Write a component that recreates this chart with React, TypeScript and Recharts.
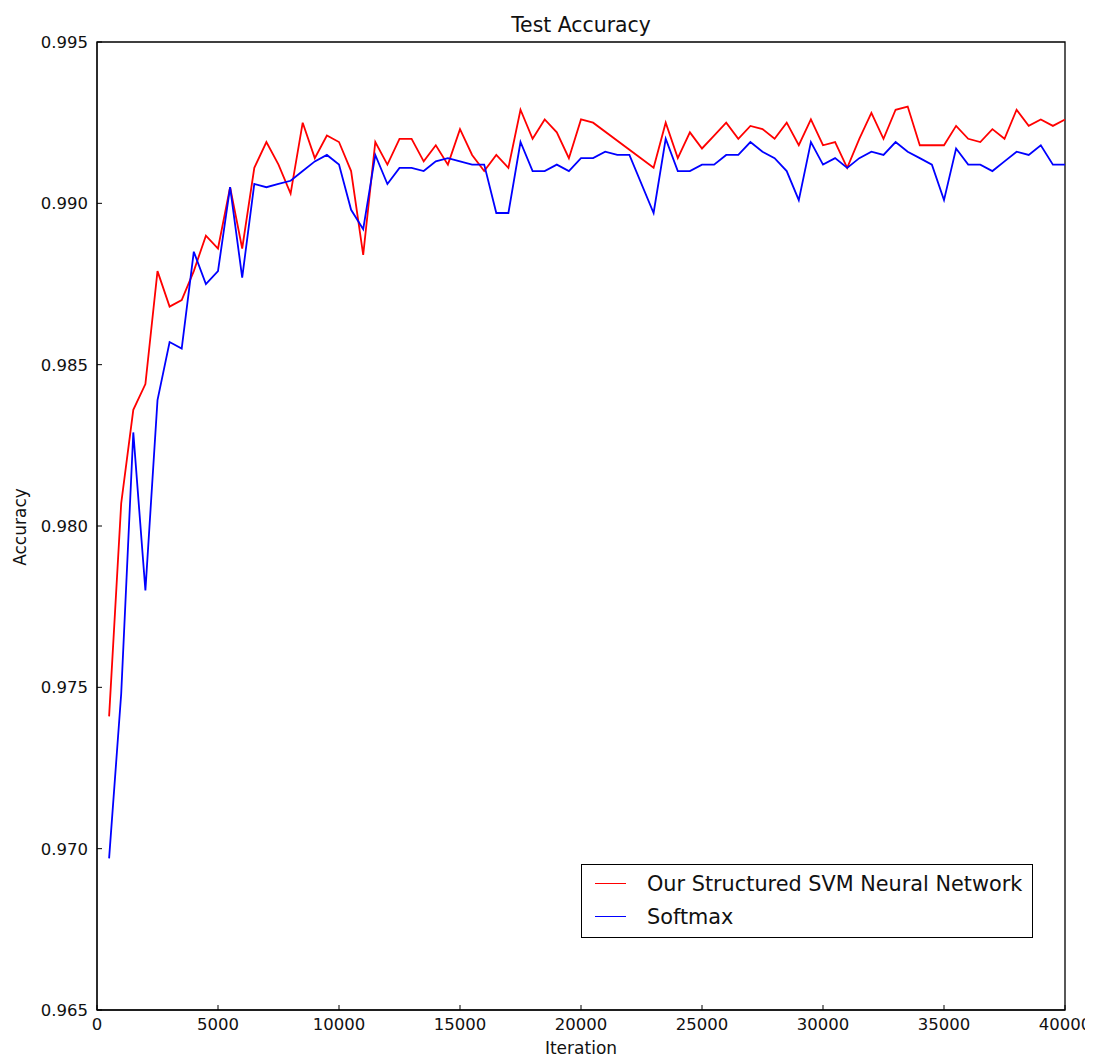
import React from 'react';
import {
  LineChart,
  Line,
  XAxis,
  YAxis,
  Legend,
  ReferenceArea,
} from 'recharts';

// Test accuracy sampled every 500 iterations; null = no evaluation at that step
const ITERATIONS = [
  500, 1000, 1500, 2000, 2500, 3000, 3500, 4000, 4500, 5000,
  5500, 6000, 6500, 7000, 7500, 8000, 8500, 9000, 9500, 10000,
  10500, 11000, 11500, 12000, 12500, 13000, 13500, 14000, 14500, 15000,
  15500, 16000, 16500, 17000, 17500, 18000, 18500, 19000, 19500, 20000,
  20500, 21000, 21500, 22000, 22500, 23000, 23500, 24000, 24500, 25000,
  25500, 26000, 26500, 27000, 27500, 28000, 28500, 29000, 29500, 30000,
  30500, 31000, 31500, 32000, 32500, 33000, 33500, 34000, 34500, 35000,
  35500, 36000, 36500, 37000, 37500, 38000, 38500, 39000, 39500, 40000,
];

const SVM_ACC = [
  0.9741, 0.9807, 0.9836, 0.9844, 0.9879, 0.9868, 0.9870, 0.9879, 0.9890, 0.9886,
  0.9905, 0.9886, 0.9911, 0.9919, 0.9912, 0.9903, 0.9925, 0.9914, 0.9921, 0.9919,
  0.9910, 0.9884, 0.9919, 0.9912, 0.9920, 0.9920, 0.9913, 0.9918, 0.9912, 0.9923,
  0.9915, 0.9910, 0.9915, 0.9911, 0.9929, 0.9920, 0.9926, 0.9922, 0.9914, 0.9926,
  0.9925, null, null, null, null, 0.9911, 0.9925, 0.9914, 0.9922, 0.9917,
  0.9921, 0.9925, 0.9920, 0.9924, 0.9923, 0.9920, 0.9925, 0.9918, 0.9926, 0.9918,
  0.9919, 0.9911, 0.9920, 0.9928, 0.9920, 0.9929, 0.9930, 0.9918, 0.9918, 0.9918,
  0.9924, 0.9920, 0.9919, 0.9923, 0.9920, 0.9929, 0.9924, 0.9926, 0.9924, 0.9926,
];

const SOFTMAX_ACC = [
  0.9697, 0.9748, 0.9829, 0.9780, 0.9839, 0.9857, 0.9855, 0.9885, 0.9875, 0.9879,
  0.9905, 0.9877, 0.9906, 0.9905, 0.9906, 0.9907, 0.9910, 0.9913, 0.9915, 0.9912,
  0.9898, 0.9892, 0.9915, 0.9906, 0.9911, 0.9911, 0.9910, 0.9913, 0.9914, 0.9913,
  0.9912, 0.9912, 0.9897, 0.9897, 0.9919, 0.9910, 0.9910, 0.9912, 0.9910, 0.9914,
  0.9914, 0.9916, 0.9915, 0.9915, null, 0.9897, 0.9920, 0.9910, 0.9910, 0.9912,
  0.9912, 0.9915, 0.9915, 0.9919, 0.9916, 0.9914, 0.9910, 0.9901, 0.9919, 0.9912,
  0.9914, 0.9911, 0.9914, 0.9916, 0.9915, 0.9919, 0.9916, 0.9914, 0.9912, 0.9901,
  0.9917, 0.9912, 0.9912, 0.9910, 0.9913, 0.9916, 0.9915, 0.9918, 0.9912, 0.9912,
];

const X_TICKS = [0, 5000, 10000, 15000, 20000, 25000, 30000, 35000, 40000];
const Y_TICKS = [0.965, 0.97, 0.975, 0.98, 0.985, 0.99, 0.995];

const SERIES = [
  { key: 'svm', name: 'Our Structured SVM Neural Network', color: '#ff0000' },
  { key: 'softmax', name: 'Softmax', color: '#0000ff' },
];

const FONT = '"DejaVu Sans", sans-serif';
const TICK_STYLE = { fill: '#111', fontSize: 16.5, fontFamily: FONT };

const data = ITERATIONS.map((iteration, i) => ({
  iteration,
  svm: SVM_ACC[i],
  softmax: SOFTMAX_ACC[i],
}));

function LegendBox() {
  return (
    <div
      style={{
        boxSizing: 'border-box',
        width: 452,
        height: 74,
        border: '1.5px solid #000',
        background: '#fff',
        fontFamily: FONT,
        fontSize: 20.8,
        color: '#111',
        padding: '2px 0 0 0',
      }}
    >
      {SERIES.map((s) => (
        <div
          key={s.key}
          style={{ display: 'flex', alignItems: 'center', height: 33 }}
        >
          <span
            style={{
              display: 'inline-block',
              width: 31,
              height: 0,
              borderTop: `1.8px solid ${s.color}`,
              marginLeft: 13,
              marginRight: 21,
            }}
          />
          <span>{s.name}</span>
        </div>
      ))}
    </div>
  );
}

export default function App() {
  return (
    <div style={{ position: 'relative', width: 1085, height: 1046 }}>
      {/* no page scrollbars: the right-most tick label sits at the window edge */}
      <style>{'html, body { overflow: hidden; }'}</style>
      <LineChart
        width={1085}
        height={1046}
        data={data}
        margin={{ top: 34, right: 28, bottom: 0, left: 0 }}
      >
        <XAxis
          dataKey="iteration"
          type="number"
          domain={[0, 40000]}
          ticks={X_TICKS}
          height={44}
          tickSize={-5}
          tickMargin={13}
          tick={TICK_STYLE}
          tickLine={{ stroke: '#000' }}
          axisLine={{ stroke: '#000' }}
          interval={0}
          allowDataOverflow
        />
        <XAxis
          xAxisId="top"
          orientation="top"
          type="number"
          domain={[0, 40000]}
          ticks={X_TICKS}
          height={0}
          tickSize={-5}
          tick={false}
          tickLine={{ stroke: '#000' }}
          axisLine={false}
          allowDataOverflow
        />
        <YAxis
          type="number"
          domain={[0.965, 0.995]}
          ticks={Y_TICKS}
          width={89}
          tickSize={-5}
          tickMargin={14}
          tick={TICK_STYLE}
          tickFormatter={(v: number) => v.toFixed(3)}
          tickLine={{ stroke: '#000' }}
          axisLine={{ stroke: '#000' }}
          interval={0}
          allowDataOverflow
        />
        <YAxis
          yAxisId="right"
          orientation="right"
          type="number"
          domain={[0.965, 0.995]}
          ticks={Y_TICKS}
          width={0}
          tickSize={-5}
          tick={false}
          tickLine={{ stroke: '#000' }}
          axisLine={false}
          allowDataOverflow
        />
        <ReferenceArea
          x1={0}
          x2={40000}
          y1={0.965}
          y2={0.995}
          fill="none"
          stroke="#000"
          strokeWidth={1.3}
        />
        {SERIES.map((s) => (
          <Line
            key={s.key}
            type="linear"
            dataKey={s.key}
            name={s.name}
            stroke={s.color}
            strokeWidth={1.8}
            dot={false}
            connectNulls
            isAnimationActive={false}
          />
        ))}
        <Legend
          layout="horizontal"
          verticalAlign="middle"
          align="center"
          width={452}
          wrapperStyle={{ left: 573, top: 856, width: 452 }}
          content={() => <LegendBox />}
        />
      </LineChart>

      <div
        style={{
          position: 'absolute',
          left: 573,
          top: 7,
          transform: 'translateX(-50%)',
          fontFamily: FONT,
          fontSize: 20.4,
          lineHeight: 1,
          whiteSpace: 'nowrap',
          color: '#111',
        }}
      >
        Test Accuracy
      </div>
      <div
        style={{
          position: 'absolute',
          left: 573,
          top: 1032,
          transform: 'translateX(-50%)',
          fontFamily: FONT,
          fontSize: 17,
          lineHeight: 1,
          whiteSpace: 'nowrap',
          color: '#111',
        }}
      >
        Iteration
      </div>
      <div
        style={{
          position: 'absolute',
          left: 12,
          top: 519,
          transform: 'translate(-50%, -50%) rotate(-90deg)',
          fontFamily: FONT,
          fontSize: 17,
          lineHeight: 1,
          whiteSpace: 'nowrap',
          color: '#111',
        }}
      >
        Accuracy
      </div>
    </div>
  );
}
